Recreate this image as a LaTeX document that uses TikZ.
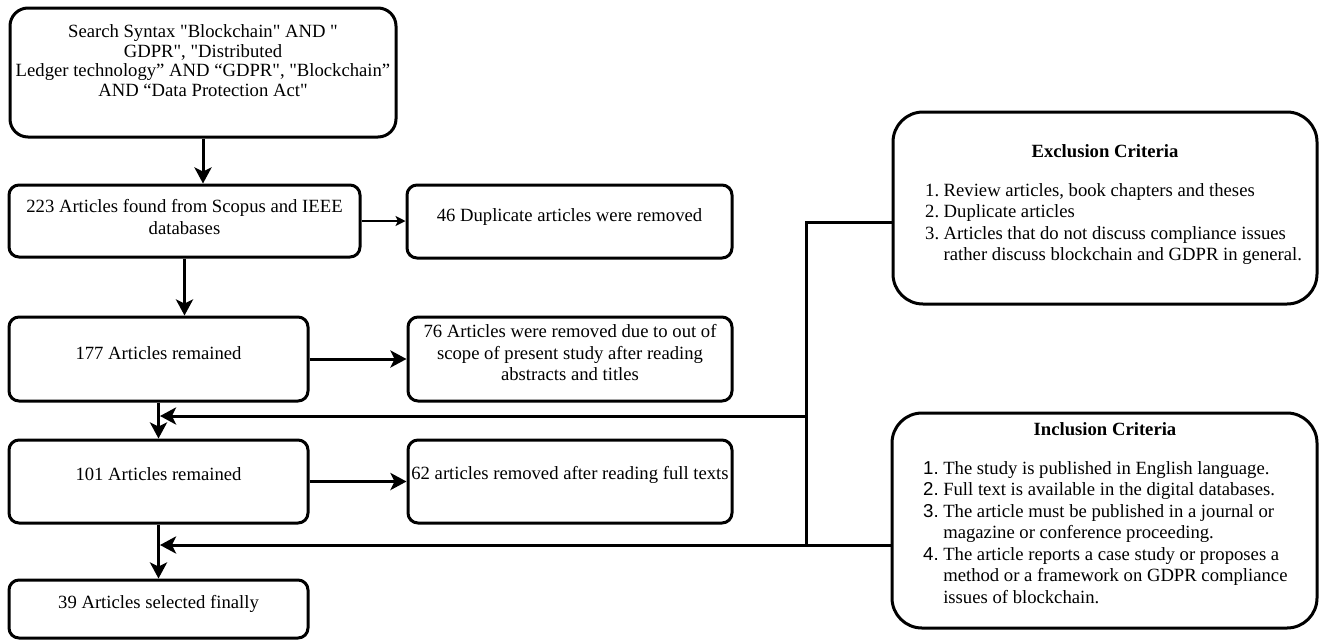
\documentclass[tikz,border=0pt]{standalone}
\usepackage{fontspec}
\newfontfamily\tnr{Liberation Serif}
\newfontfamily\ars{Liberation Sans}
\usetikzlibrary{arrows.meta}
\begin{document}
\begin{tikzpicture}[x=1pt,y=-1pt,
  box/.style={draw=black, line width=3pt, rounded corners=10pt, fill=white, inner sep=0pt},
  bigbox/.style={box, rounded corners=30pt},
  txt/.style={font=\tnr\fontsize{18.67}{21.5}\selectfont, align=center, inner sep=0pt, text=black},
  conn/.style={line width=3pt},
  arr/.style={conn, -{Stealth[length=16pt,width=17pt,inset=4pt]}},
  thinarr/.style={line width=1.5pt, -{Stealth[length=10pt,width=10pt,inset=2.5pt]}},
]
\useasboundingbox (0,0) rectangle (1322,641);

\node[box, rounded corners=18pt, minimum width=386pt, minimum height=129pt,
  label={[txt, yshift=12pt, font=\tnr\fontsize{18.67}{19.5}\selectfont]center:{Search Syntax "Blockchain" AND "\\GDPR", "Distributed\\Ledger technology” AND “GDPR", "Blockchain”\\AND “Data Protection Act"}}] (b1) at (203,72.5) {};

\node[box, minimum width=351pt, minimum height=72pt,
  label={[txt, yshift=4pt]center:{223 Articles found from Scopus and IEEE\\databases}}] (b2) at (184.5,221) {};
\node[box, minimum width=325pt, minimum height=73pt,
  label={[txt, yshift=4pt]center:{46 Duplicate articles were removed}}] (b46) at (569.5,221.5) {};
\node[box, minimum width=299pt, minimum height=84pt,
  label={[txt, yshift=6pt]center:{177 Articles remained}}] (b3) at (158.5,359) {};
\node[box, minimum width=324pt, minimum height=84pt,
  label={[txt, yshift=6pt]center:{76 Articles were removed due to out of\\scope of present study after reading\\abstracts and titles}}] (b76) at (570,359) {};
\node[box, minimum width=299pt, minimum height=83pt,
  label={[txt, yshift=7pt]center:{101 Articles remained}}] (b4) at (158.5,481.5) {};
\node[box, minimum width=324pt, minimum height=83pt,
  label={[txt, yshift=7pt]center:{62 articles removed after reading full texts}}] (b62) at (570,481.5) {};
\node[box, minimum width=299pt, minimum height=58pt,
  label={[txt, yshift=5pt]center:{39 Articles selected finally}}] (b39) at (158.5,609) {};

\node[bigbox, minimum width=424pt, minimum height=192pt] (excl) at (1105,208) {};
\node[bigbox, minimum width=425pt, minimum height=215pt] (incl) at (1104.5,520.5) {};

\node[txt, font=\tnr\bfseries\fontsize{18.67}{21.5}\selectfont, anchor=base] (exT) at (1105,157) {Exclusion Criteria};
\node[txt, anchor=base west, align=left] (exL) at (925,196) {\begin{tabular}[t]{@{}r@{\hspace{4.5pt}}l@{}}
1. & Review articles, book chapters and theses\\
2. & Duplicate articles\\
3. & Articles that do not discuss compliance issues\\
 & rather discuss blockchain and GDPR in general.
\end{tabular}};

\node[txt, font=\tnr\bfseries\fontsize{18.67}{21.5}\selectfont, anchor=base] (inT) at (1105,435) {Inclusion Criteria};
\node[txt, anchor=base west, align=left] (inL) at (923,474) {\begin{tabular}[t]{@{}r@{\hspace{4.5pt}}l@{}}
{\ars 1.} & The study is published in English language.\\
{\ars 2.} & Full text is available in the digital databases.\\
{\ars 3.} & The article must be published in a journal or\\
 & magazine or conference proceeding.\\
{\ars 4.} & The article reports a case study or proposes a\\
 & method or a framework on GDPR compliance\\
 & issues of blockchain.
\end{tabular}};

\coordinate (j1) at (806,222);
\coordinate (j2) at (806,416);
\coordinate (j3) at (806,545);
\coordinate (m1) at (160,416);
\coordinate (m2) at (160,545);

\draw[arr] (b1.south) -- (b1.south |- b2.north);
\draw[arr] (b2.south) -- (b2.south |- b3.north);
\draw[thinarr] (b2.east) -- (b2.east -| b46.west);
\draw[arr] (b3.east) -- (b3.east -| b76.west);
\draw[arr] (b3.south) -- (b4.north);
\draw[arr] (b4.east) -- (b4.east -| b62.west);
\draw[arr] (b4.south) -- (b39.north);
\draw[conn] (excl.west |- j1) -- (j1) -- (j3);
\draw[arr] (j2) -- (m1);
\draw[arr] (incl.west |- j3) -- (m2);
\end{tikzpicture}
\end{document}
